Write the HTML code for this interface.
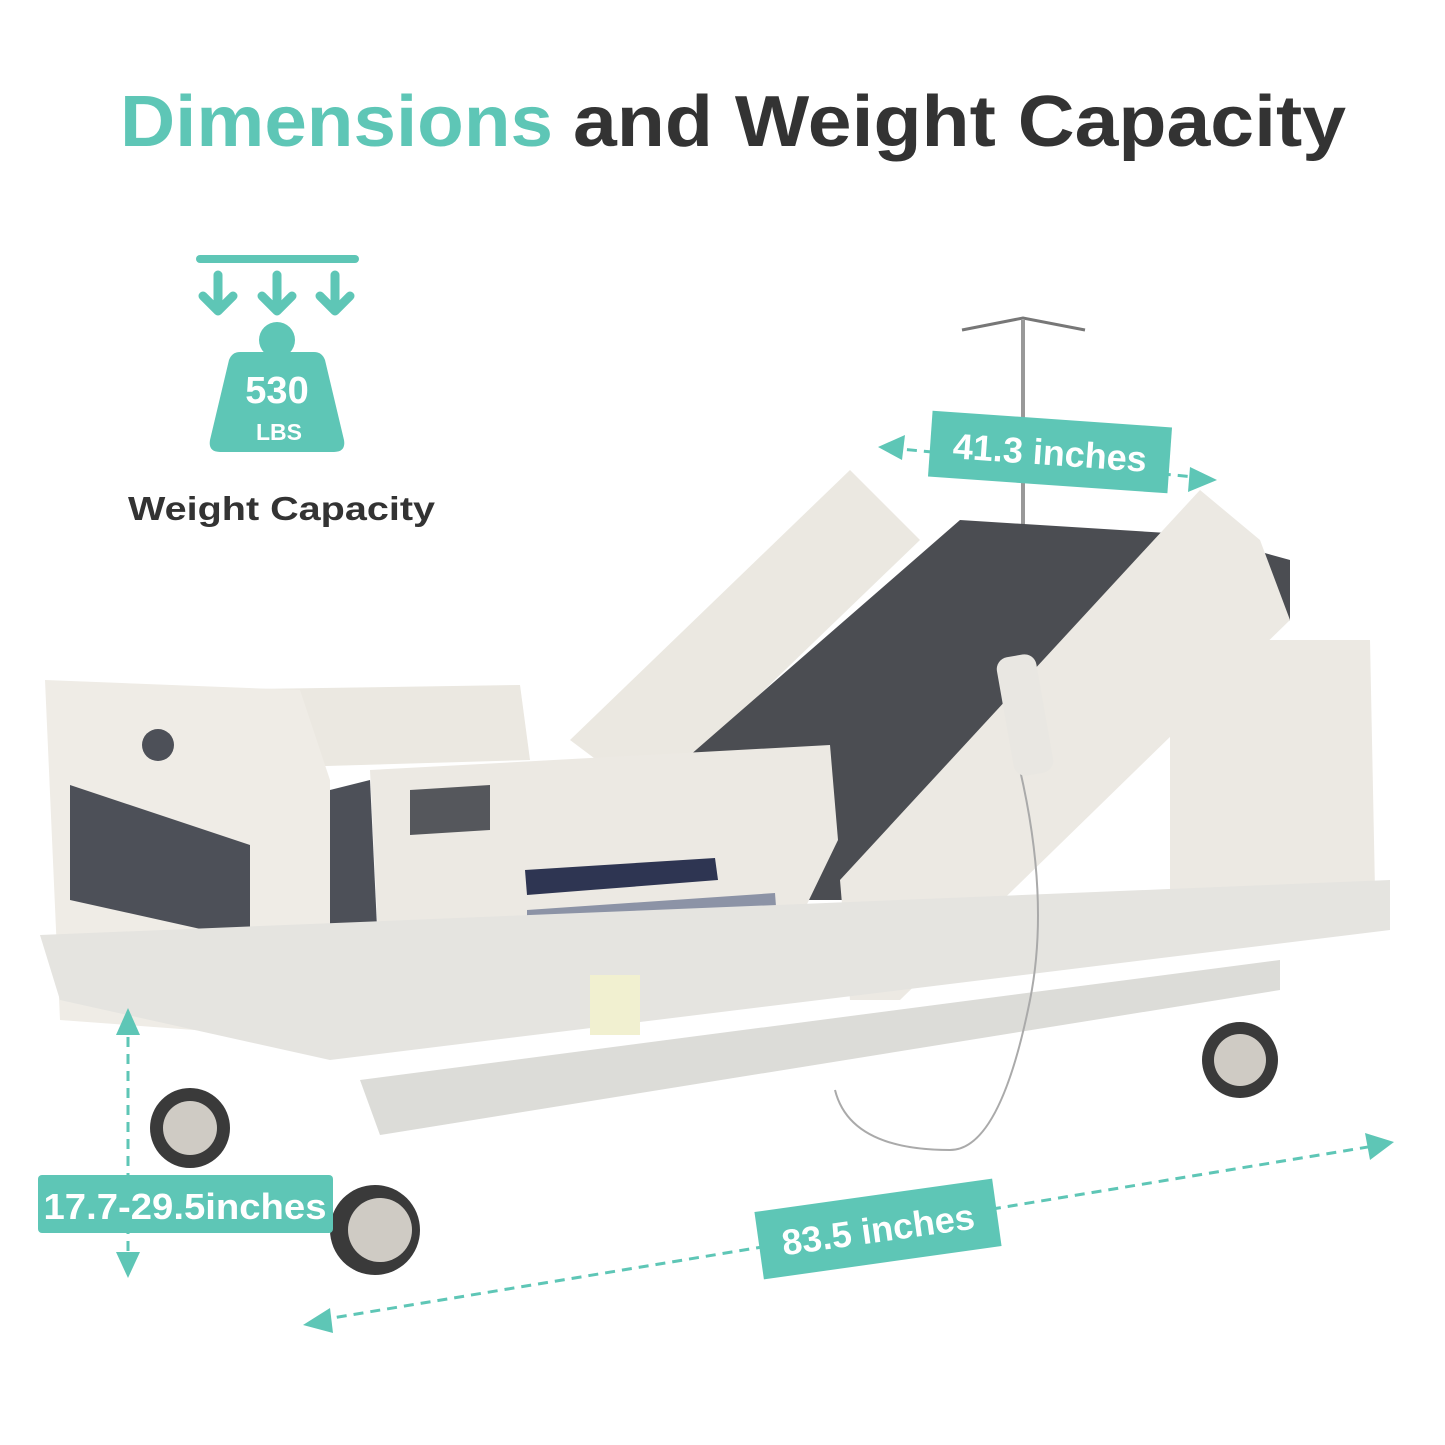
<!DOCTYPE html>
<html><head><meta charset="utf-8"><style>
html,body{margin:0;padding:0;background:#fff}
svg{display:block}
text{font-family:"Liberation Sans",sans-serif;font-weight:bold}
</style></head><body>
<svg width="1445" height="1445" viewBox="0 0 1445 1445" xmlns="http://www.w3.org/2000/svg">
<text x="120" y="146" font-size="72" fill="#5ec6b6" textLength="433" lengthAdjust="spacingAndGlyphs">Dimensions</text>
<text x="573" y="146" font-size="72" fill="#333" textLength="773" lengthAdjust="spacingAndGlyphs">and Weight Capacity</text>

<!-- weight icon -->
<g fill="none" stroke="#5ec6b6" stroke-width="9" stroke-linecap="round" stroke-linejoin="round">
<line x1="200" y1="259" x2="355" y2="259" stroke-width="8"/>
<path d="M218 275V310M203 296L218 311L233 296"/>
<path d="M277 275V310M262 296L277 311L292 296"/>
<path d="M335 275V310M320 296L335 311L350 296"/>
</g>
<circle cx="277" cy="340" r="18" fill="#5ec6b6"/>
<path d="M240 352H314Q322 352 325 360L344 440Q346 452 334 452H220Q208 452 210 440L229 360Q232 352 240 352Z" fill="#5ec6b6"/>
<text x="277" y="403" font-size="38" fill="#fff" text-anchor="middle">530</text>
<text x="279" y="440" font-size="23" fill="#fff" text-anchor="middle">LBS</text>
<text x="128" y="520" font-size="33" fill="#333" textLength="307" lengthAdjust="spacingAndGlyphs">Weight Capacity</text>

<!-- bed approximate -->
<line x1="1023" y1="320" x2="1023" y2="525" stroke="#999" stroke-width="4"/>
<path d="M962 330L1023 318L1085 330" fill="none" stroke="#777" stroke-width="3"/>
<path d="M570 740L850 470L920 540L650 800Z" fill="#ebe8e1"/>
<path d="M650 790L960 520L1200 535L1290 560L1290 620L900 900L700 900Z" fill="#4b4d52"/>
<path d="M840 880L1200 490L1260 540L1290 620L900 1000L850 1000Z" fill="#ece9e3"/>
<path d="M1170 640L1370 640L1375 890L1170 890Z" fill="#ece9e3"/>
<path d="M190 690L520 685L530 760L190 770Z" fill="#ebe8e1"/>
<path d="M45 680L300 690L330 780L330 1040L60 1020Z" fill="#efece6"/>
<path d="M70 785L250 845L250 940L70 900Z" fill="#4d5058"/>
<circle cx="158" cy="745" r="16" fill="#4d5058"/>
<path d="M370 770L830 745L838 840L780 960L380 980Z" fill="#ece9e3"/>
<path d="M330 790L370 780L380 990L330 990Z" fill="#4d5058"/>
<path d="M525 870L715 858L718 880L527 895Z" fill="#2e3552"/>
<path d="M527 910L775 893L777 920L527 940Z" fill="#8c93a6"/>
<path d="M410 790L490 785L490 830L410 835Z" fill="#55575c"/>
<path d="M40 935L1390 880L1390 930L330 1060L60 1000Z" fill="#e5e4e0"/>
<path d="M360 1080L1280 960L1280 990L380 1135Z" fill="#dcdcd8"/>
<rect x="590" y="975" width="50" height="60" fill="#f1f0d0"/>
<g fill="#3a3a3a"><circle cx="190" cy="1128" r="40"/><circle cx="375" cy="1230" r="45"/><circle cx="1240" cy="1060" r="38"/></g>
<g fill="#cfcbc4"><circle cx="190" cy="1128" r="27"/><circle cx="380" cy="1230" r="32"/><circle cx="1240" cy="1060" r="26"/></g>
<path d="M1020 770Q1050 900 1030 1000Q1000 1150 950 1150Q850 1150 835 1090" fill="none" stroke="#aaa" stroke-width="2"/>
<rect x="1005" y="655" width="40" height="120" rx="12" fill="#e9e7e2" transform="rotate(-10 1025 715)"/>

<!-- dimension arrows -->
<g stroke="#5ec6b6" stroke-width="3" stroke-dasharray="10 7" fill="none">
<line x1="890" y1="448" x2="1205" y2="478"/>
<line x1="128" y1="1020" x2="128" y2="1265"/>
<line x1="320" y1="1320" x2="1380" y2="1145"/>
</g>
<g fill="#5ec6b6">
<path d="M878 447L905 435L902 460Z"/>
<path d="M1217 480L1190 467L1188 492Z"/>
<path d="M128 1008L116 1035L140 1035Z"/>
<path d="M128 1278L116 1252L140 1252Z"/>
<path d="M303 1325L330 1308L333 1333Z"/>
<path d="M1394 1142L1365 1133L1370 1160Z"/>
</g>
<g transform="translate(1050 452) rotate(4)">
<rect x="-120" y="-33" width="240" height="66" fill="#5ec6b6"/>
<text x="0" y="13" font-size="36" fill="#fff" text-anchor="middle">41.3 inches</text>
</g>
<rect x="38" y="1175" width="295" height="58" rx="4" fill="#5ec6b6"/>
<text x="185" y="1219" font-size="36" fill="#fff" text-anchor="middle" textLength="283" lengthAdjust="spacingAndGlyphs">17.7-29.5inches</text>
<g transform="translate(878 1229) rotate(-8)">
<rect x="-120" y="-34" width="240" height="68" fill="#5ec6b6"/>
<text x="0" y="13" font-size="36" fill="#fff" text-anchor="middle">83.5 inches</text>
</g>
</svg>
</body></html>
